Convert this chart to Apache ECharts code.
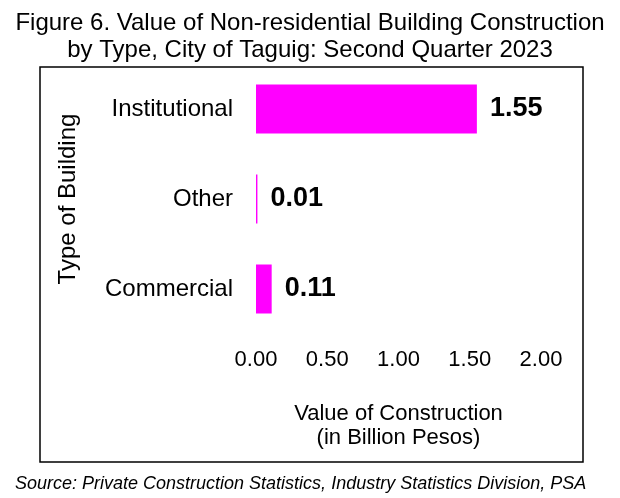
<!DOCTYPE html>
<html><head><meta charset="utf-8">
<script src="https://cdn.jsdelivr.net/npm/echarts@6/dist/echarts.min.js"></script>
<style>html,body{margin:0;padding:0;background:#fff}#c{width:620px;height:498px}</style>
</head><body><div id="c"></div>
<script>
const categories = ['Institutional', 'Other', 'Commercial'];
const values = [1.55, 0.01, 0.11];
const valueLabels = ['1.55', '0.01', '0.11'];
const xTicks = [0, 0.5, 1, 1.5, 2];

const chart = echarts.init(document.getElementById('c'), null, {renderer: 'canvas'});
const F = 'Liberation Sans, Arial, sans-serif';
chart.setOption({
  backgroundColor: '#fff',
  animation: false,
  title: {
    text: 'Figure 6. Value of Non-residential Building Construction\nby Type, City of Taguig: Second Quarter 2023',
    left: 'center', top: 5,
    textStyle: {fontFamily: F, fontSize: 24, fontWeight: 'normal', color: '#000', lineHeight: 27}
  },
  graphic: [
    {type: 'rect', shape: {x: 40, y: 67, width: 543, height: 395}, style: {fill: 'none', stroke: '#000', lineWidth: 1.5}, z: -1},
    {type: 'text', left: 15, top: 475, style: {text: 'Source: Private Construction Statistics, Industry Statistics Division, PSA', font: 'italic 18px Liberation Sans, Arial, sans-serif', fill: '#000'}}
  ],
  grid: {left: 256, right: 79, top: 64, bottom: 164, containLabel: false},
  xAxis: {
    type: 'value', min: xTicks[0], max: xTicks[xTicks.length - 1], interval: xTicks[1] - xTicks[0],
    axisLine: {show: false}, axisTick: {show: false}, splitLine: {show: false},
    axisLabel: {formatter: v => v.toFixed(2), fontFamily: F, fontSize: 22, color: '#000', margin: 15},
    name: 'Value of Construction\n(in Billion Pesos)', nameLocation: 'middle', nameGap: 68,
    nameTextStyle: {fontFamily: F, fontSize: 22, color: '#000', lineHeight: 24}
  },
  yAxis: {
    type: 'category', data: categories, inverse: true,
    axisLine: {show: false}, axisTick: {show: false},
    axisLabel: {fontFamily: F, fontSize: 24, color: '#000', margin: 23},
    name: 'Type of Building', nameLocation: 'middle', nameGap: 176, nameRotate: 90,
    nameTextStyle: {fontFamily: F, fontSize: 24, color: '#000'}
  },
  series: [{
    type: 'bar', data: values, barWidth: 49,
    itemStyle: {color: '#FF00FF'},
    label: {show: true, position: 'right', distance: 13, formatter: p => valueLabels[p.dataIndex],
      fontFamily: F, fontSize: 27, fontWeight: 'bold', color: '#000'}
  }]
});
</script></body></html>
